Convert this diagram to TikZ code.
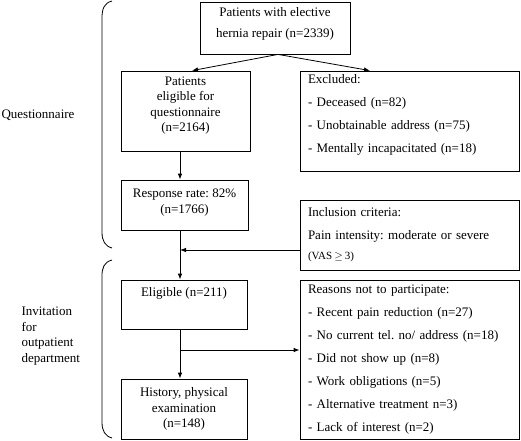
\documentclass[tikz,border=0pt]{standalone}
\usepackage{fontspec}
\setmainfont{Liberation Serif}
\usetikzlibrary{arrows.meta}
\frenchspacing
\begin{document}
\begin{tikzpicture}[x=1pt,y=-1pt,
  every node/.style={font=\fontsize{13}{15.5}\selectfont},
  box/.style={draw, line width=0.8pt, inner sep=0pt, align=center},
  listbox/.style={draw, line width=0.8pt, inner xsep=8pt, inner ysep=0pt, align=left, text width=203pt,
     font=\fontsize{13}{23}\selectfont},
  conn/.style={line width=0.8pt},
  arr/.style={conn, -{Latex[length=6pt,width=4.5pt]}},
  brace/.style={line width=0.8pt}
]
\useasboundingbox (0,0) rectangle (521,440);

% boxes
\node[box, minimum width=150pt, minimum height=52pt] (top) at (275,28)
  {Patients with elective\\[6pt]hernia repair (n=2339)\\[-4pt]\mbox{}};
\node[box, minimum width=129pt, minimum height=80pt] (elig) at (185.5,111)
  {Patients\\eligible for\\questionnaire\\(n=2164)\\[-2pt]\mbox{}};
\node[listbox, minimum height=100pt] (excl) at (409.5,121)
  {Excluded:\\- Deceased (n=82)\\- Unobtainable address (n=75)\\- Mentally incapacitated (n=18)\\[-8pt]\mbox{}};
\node[box, minimum width=127pt, minimum height=50pt] (resp) at (184.5,205)
  {Response rate: 82\%\\(n=1766)\\[-8pt]\mbox{}};
\node[listbox, minimum height=70pt] (incl) at (409.5,235)
  {Inclusion criteria:\\Pain intensity: moderate or severe\\[-3pt]{\fontsize{11}{10}\selectfont (VAS\hspace{2pt}$\geq$\hspace{2pt}3)}};
\node[box, minimum width=126pt, minimum height=49pt] (elg) at (184,304.5) {};
\node (elgt) at (184,293) {Eligible (n=211)};
\node[listbox, minimum height=159pt] (reas) at (409.5,359.5)
  {Reasons not to participate:\\- Recent pain reduction (n=27)\\- No current tel. no/ address (n=18)\\- Did not show up (n=8)\\- Work obligations (n=5)\\- Alternative treatment n=3)\\- Lack of interest (n=2)};
\node[box, minimum width=126pt, minimum height=60pt] (hist) at (184,409)
  {History, physical\\examination\\(n=148)};

% side labels
\node (q) at (38,115) {Questionnaire};
\node[align=left, anchor=west] (inv) at (18,336)
  {Invitation\\for\\outpatient\\department};

% braces
\draw[brace] (112,1) .. controls (104,3) and (102,9) .. (102,18) -- (102,232) .. controls (102,241) and (105,246) .. (112,248);
\draw[brace] (112,260) .. controls (104,262) and (102,268) .. (102,276) -- (102,422) .. controls (102,431) and (105,436) .. (112,438);

% connectors
\coordinate (ts) at ([xshift=3pt]top.south);
\draw[arr] (ts) -- (elig.north -| 192,0);
\draw[arr] (ts) -- (excl.north -| 370,0);
\draw[arr] (elig.south -| 180,0) -- (resp.north -| 180,0);
\draw[arr] (resp.south -| 180,0) -- (elg.north -| 180,0);
\coordinate (join) at (180,250);
\draw[arr] (incl.west |- join) -- (join);
\draw[arr] (elg.south -| 180,0) -- (hist.north -| 180,0);
\coordinate (branch) at (180,350);
\draw[arr] (branch) -- (reas.west |- branch);
\end{tikzpicture}
\end{document}
